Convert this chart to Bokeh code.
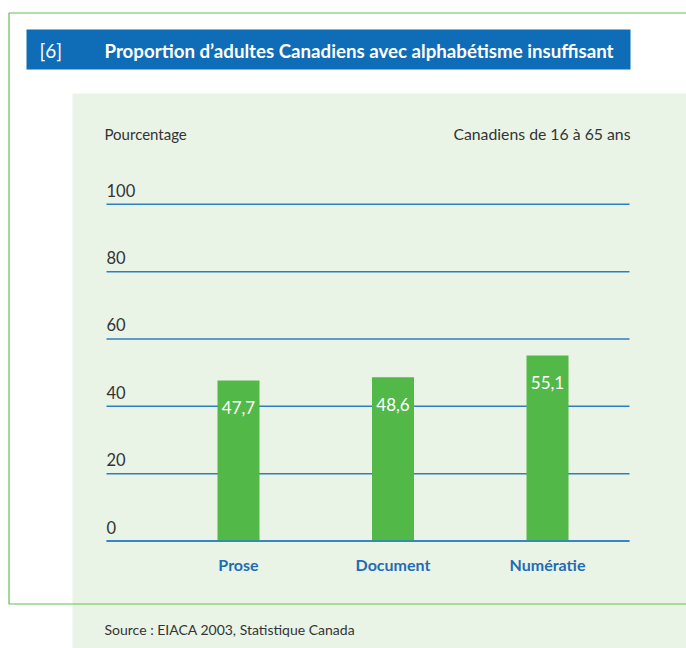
from bokeh.plotting import figure
from bokeh.models import Range1d
from bokeh.core.properties import value
from bokeh.embed import file_html
from bokeh.resources import INLINE

# ---- data ----
categories = ["Prose", "Document", "Numératie"]
values = [47.7, 48.6, 55.1]
value_labels = ["47,7", "48,6", "55,1"]
y_ticks = [0, 20, 40, 60, 80, 100]
y_tick_labels = ["0", "20", "40", "60", "80", "100"]
title_num = "[6]"
title_text = "Proportion d’adultes Canadiens avec alphabétisme insuffisant"
y_title = "Pourcentage"
note = "Canadiens de 16 à 65 ans"
source = "Source : EIACA 2003, Statistique Canada"

# ---- layout (picture pixel coordinates) ----
W, H = 686, 648
LEFT, TOP = 0, 0
cat_first_px, cat_step_px = 238.0, 154.5
zero_px, hundred_px = 540.5, 203.8
px_per_unit = (zero_px - hundred_px) / 100.0
FONT = "Lato"
TXT = "#333333"
BLUE = "#0f6cb6"
GRID = "#2d7fc1"
GREEN = "#52b848"

p = figure(width=W, height=H, output_backend="svg", toolbar_location=None,
           x_range=Range1d(LEFT, LEFT + W), y_range=Range1d(TOP + H, TOP),
           x_axis_location=None, y_axis_location=None, min_border=0)
p.grid.visible = False
p.outline_line_color = None
p.background_fill_color = "white"
p.border_fill_color = "white"

n = len(categories)
p.extra_x_ranges = {"cat": Range1d(-(cat_first_px - LEFT) / cat_step_px,
                                   (n - 1) + (LEFT + W - (cat_first_px + (n - 1) * cat_step_px)) / cat_step_px)}
p.extra_y_ranges = {"pct": Range1d(-(TOP + H - zero_px) / px_per_unit,
                                   (zero_px - TOP) / px_per_unit)}

# background panel
p.quad(left=[72], right=[LEFT + W + 20], top=[93], bottom=[TOP + H + 20],
       fill_color="#e9f4e7", line_color=None)
# green frame
p.quad(left=[8.5], right=[LEFT + W + 20], top=[12.5], bottom=[603.5],
       fill_color=None, line_color="#62c050", line_width=1.2)
# title bar
p.quad(left=[26], right=[630], top=[29], bottom=[69], fill_color=BLUE, line_color=None)
p.text(x=[39], y=[49.5], text=[title_num], text_color="white", text_font=value(FONT),
       text_font_size="19px", text_baseline="middle")
p.text(x=[104], y=[50], text=[title_text], text_color="white", text_font=value(FONT),
       text_font_style="bold", text_font_size="18.7px", text_baseline="middle")

# header texts
p.text(x=[104], y=[133], text=[y_title], text_color=TXT, text_font=value(FONT),
       text_font_size="15px", text_baseline="middle")
p.text(x=[630], y=[133], text=[note], text_color=TXT, text_font=value(FONT),
       text_font_size="15.8px", text_baseline="middle", text_align="right")

# gridlines
p.segment(x0=[106] * len(y_ticks), x1=[629] * len(y_ticks), y0=y_ticks, y1=y_ticks,
          y_range_name="pct", line_color=GRID, line_width=1.5)
p.text(x=[106] * len(y_ticks), y=y_ticks, text=y_tick_labels, y_range_name="pct",
       y_offset=-14, text_color=TXT, text_font=value(FONT), text_font_size="16.5px",
       text_baseline="middle")

# bars
idx = list(range(n))
p.vbar(x=idx, top=values, bottom=0, width=42 / cat_step_px, x_range_name="cat",
       y_range_name="pct", fill_color=GREEN, line_color=None)
p.text(x=idx, y=values, text=value_labels, x_range_name="cat", y_range_name="pct",
       y_offset=27, text_color="white", text_font=value(FONT), text_font_size="17px",
       text_align="center", text_baseline="middle")
p.segment(x0=[106], x1=[629], y0=[0], y1=[0], y_range_name="pct",
          line_color=GRID, line_width=1.5)

# category labels
p.text(x=idx, y=[0] * n, text=categories, x_range_name="cat", y_range_name="pct",
       y_offset=23, text_color="#1f6db4", text_font=value(FONT), text_font_style="bold",
       text_font_size="16px", text_align="center", text_baseline="middle")

# source
p.text(x=[104], y=[629], text=[source], text_color=TXT, text_font=value(FONT),
       text_font_size="14px", text_baseline="middle")

open("out.html", "w").write(file_html(p, INLINE))
